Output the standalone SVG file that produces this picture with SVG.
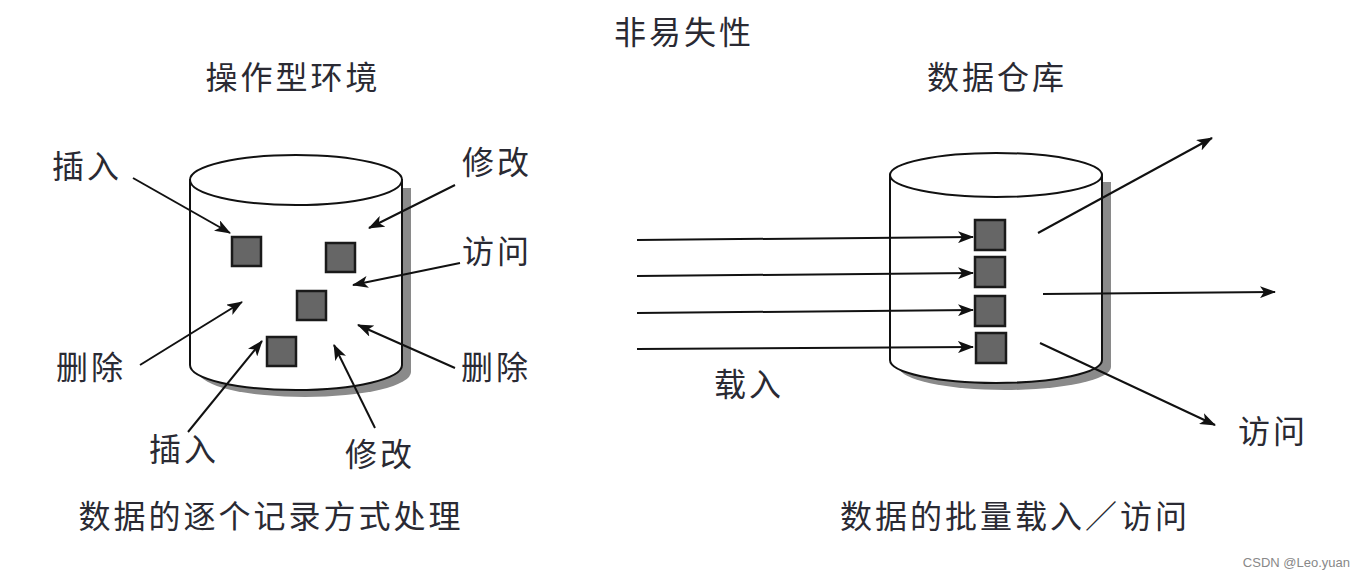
<svg xmlns="http://www.w3.org/2000/svg" width="1365" height="577" viewBox="0 0 1365 577">
<style>
.t{font-family:"Noto Sans CJK SC","Noto Sans",sans-serif;font-size:32px;letter-spacing:3px;fill:#2a2a33}
.c{fill:#fff;stroke:#111;stroke-width:2}
.sh{fill:#8a8a8a}
.sq{fill:#666;stroke:#1a1a1a;stroke-width:2.5}
.a{stroke:#111;stroke-width:2;fill:none;marker-end:url(#ah)}
</style>
<defs>
<marker id="ah" viewBox="0 0 16 12" refX="15" refY="6" markerWidth="16" markerHeight="12" markerUnits="userSpaceOnUse" orient="auto">
<path d="M0,0 L16,6 L0,12 L4,6 Z" fill="#111"/>
</marker>
</defs>
<rect width="1365" height="577" fill="#fff"/>
<g id="left-db">
<path class="sh" d="M199,188 L199,372 A106,25 0 0 0 411,372 L411,188 Z"/>
<path class="c" d="M190,180 L190,365 A106,25 0 0 0 402,365 L402,180 Z"/>
<ellipse class="c" cx="296" cy="180" rx="106" ry="25"/>
<rect class="sq" x="232" y="237" width="29" height="29"/>
<rect class="sq" x="326" y="243" width="29" height="29"/>
<rect class="sq" x="297" y="291" width="29" height="29"/>
<rect class="sq" x="267" y="337" width="29" height="29"/>
</g>
<g id="right-db">
<path class="sh" d="M899,182 L899,367 A106,23 0 0 0 1111,367 L1111,182 Z"/>
<path class="c" d="M890,175 L890,360 A106,23 0 0 0 1102,360 L1102,175 Z"/>
<ellipse class="c" cx="996" cy="175" rx="106" ry="22"/>
<rect class="sq" x="975" y="220" width="30" height="30"/>
<rect class="sq" x="975" y="257" width="30" height="30"/>
<rect class="sq" x="975" y="296" width="30" height="30"/>
<rect class="sq" x="976" y="333" width="30" height="30"/>
</g>
<g id="connectors">
<line class="a" x1="133" y1="178" x2="230" y2="233"/>
<line class="a" x1="455" y1="185" x2="369" y2="228"/>
<line class="a" x1="460" y1="263" x2="353" y2="285"/>
<line class="a" x1="140" y1="365" x2="242" y2="302"/>
<line class="a" x1="455" y1="368" x2="358" y2="325"/>
<line class="a" x1="188" y1="432" x2="262" y2="341"/>
<line class="a" x1="375" y1="428" x2="334" y2="345"/>
<line class="a" x1="637" y1="240" x2="973" y2="237"/>
<line class="a" x1="637" y1="276" x2="973" y2="273"/>
<line class="a" x1="637" y1="313" x2="973" y2="310"/>
<line class="a" x1="637" y1="349" x2="973" y2="347"/>
<line class="a" x1="1038" y1="233" x2="1212" y2="138"/>
<line class="a" x1="1043" y1="294" x2="1275" y2="292"/>
<line class="a" x1="1040" y1="343" x2="1215" y2="425"/>
</g>
<g id="labels">
<text class="t" x="684" y="44" text-anchor="middle">非易失性</text>
<text class="t" x="293" y="89" text-anchor="middle">操作型环境</text>
<text class="t" x="997" y="89" text-anchor="middle">数据仓库</text>
<text class="t" x="87" y="178" text-anchor="middle">插入</text>
<text class="t" x="497" y="174" text-anchor="middle">修改</text>
<text class="t" x="497" y="263" text-anchor="middle">访问</text>
<text class="t" x="91" y="379" text-anchor="middle">删除</text>
<text class="t" x="496" y="379" text-anchor="middle">删除</text>
<text class="t" x="184" y="461" text-anchor="middle">插入</text>
<text class="t" x="380" y="466" text-anchor="middle">修改</text>
<text class="t" x="749" y="396" text-anchor="middle">载入</text>
<text class="t" x="1273" y="443" text-anchor="middle">访问</text>
<text class="t" x="271" y="528" text-anchor="middle">数据的逐个记录方式处理</text>
<text class="t" x="1015" y="528" text-anchor="middle">数据的批量载入／访问</text>
<text x="1350" y="567" text-anchor="end" font-family="'Liberation Sans',Arial,sans-serif" font-size="13" fill="#888">CSDN @Leo.yuan</text>
</g>
</svg>
